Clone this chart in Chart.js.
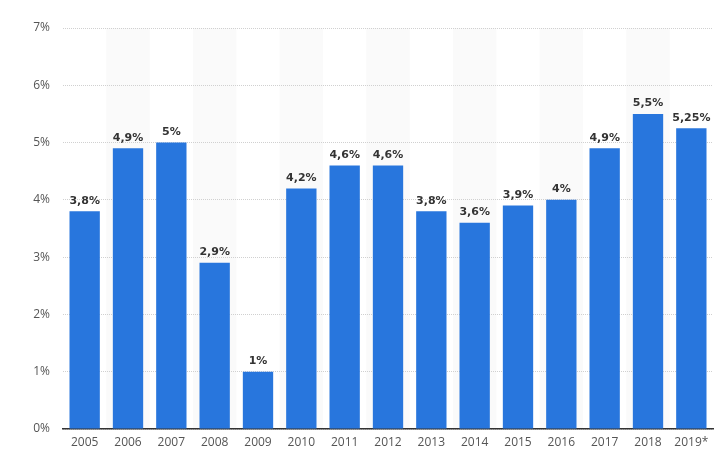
<!DOCTYPE html>
<html>
<head>
<meta charset="utf-8">
<script src="https://cdn.jsdelivr.net/npm/chart.js@4/dist/chart.umd.min.js"></script>
<style>
html,body{margin:0;padding:0;background:#fff;}
#wrap{width:725px;height:471px;position:relative;}
</style>
</head>
<body>
<div id="wrap"><canvas id="c" width="725" height="471"></canvas></div>
<script>
const categories = ["2005","2006","2007","2008","2009","2010","2011","2012","2013","2014","2015","2016","2017","2018","2019*"];
const values = [3.8, 4.9, 5, 2.9, 1, 4.2, 4.6, 4.6, 3.8, 3.6, 3.9, 4, 4.9, 5.5, 5.25];
const yTicks = [0,1,2,3,4,5,6,7];

const fmt = v => String(v).replace('.', ',') + '%';

const bandPlugin = {
  id: 'bands',
  beforeDraw(chart) {
    const {ctx, chartArea, scales} = chart;
    const x = scales.x;
    ctx.save();
    ctx.fillStyle = '#fafafa';
    const w = (chartArea.right - chartArea.left) / categories.length;
    for (let i = 1; i < categories.length; i += 2) {
      const c = x.getPixelForValue(i);
      ctx.fillRect(c - w/2, chartArea.top, w, chartArea.bottom - chartArea.top);
    }
    ctx.restore();
  }
};

const labelPlugin = {
  id: 'vlabels',
  afterDatasetsDraw(chart) {
    const {ctx} = chart;
    const meta = chart.getDatasetMeta(0);
    ctx.save();
    ctx.font = 'bold 11px "DejaVu Sans"';
    ctx.fillStyle = '#333';
    ctx.textAlign = 'center';
    ctx.textBaseline = 'bottom';
    meta.data.forEach((bar, i) => {
      ctx.fillText(fmt(values[i]), bar.x, bar.y - 5);
    });
    ctx.restore();
  }
};

new Chart(document.getElementById('c'), {
  type: 'bar',
  data: {
    labels: categories,
    datasets: [{
      data: values,
      backgroundColor: '#2876dd',
      borderWidth: 0,
      barPercentage: 0.7,
      categoryPercentage: 1.0
    }]
  },
  options: {
    responsive: false,
    animation: false,
    devicePixelRatio: 1,
    layout: { padding: { left: 0, right: 12, top: 28, bottom: 20 } },
    plugins: { legend: { display: false }, tooltip: { enabled: false } },
    scales: {
      x: {
        grid: { display: false, drawTicks: false },
        border: { display: true, color: '#333', width: 1.5 },
        ticks: { color: '#555', font: { family: 'Open Sans', size: 12 }, padding: 6, maxRotation: 0, autoSkip: false },
        afterFit: s => { s.height = 22; }
      },
      y: {
        min: 0, max: 7,
        afterBuildTicks: s => { s.ticks = yTicks.map(v => ({value: v})); },
        grid: { color: '#d0d0d0', drawTicks: false, lineWidth: 1 },
        border: { display: false, dash: [1, 1] },
        ticks: { color: '#555', font: { family: 'Open Sans', size: 12 }, padding: 13, callback: v => v + '%' },
        afterFit: s => { s.width = 63; }
      }
    }
  },
  plugins: [bandPlugin, labelPlugin]
});
</script>
</body>
</html>
